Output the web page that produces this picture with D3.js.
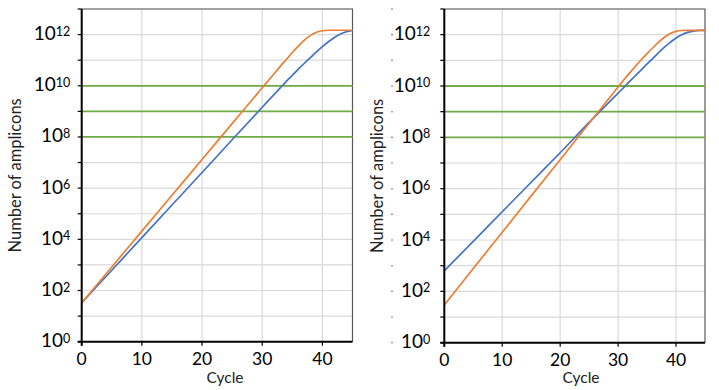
<!DOCTYPE html>
<html><head><meta charset="utf-8">
<script src="https://cdn.jsdelivr.net/npm/d3@7"></script>
<style>body{margin:0;background:#fff}svg{display:block}</style>
</head><body>
<svg id="c" width="719" height="390"></svg>
<script>
// ---- data ----
const xTicks = [0, 10, 20, 30, 40];
const yTickExps = [0, 2, 4, 6, 8, 10, 12];
const thresholds = [1e8, 1e9, 1e10];

const leftOrangeCycles = [0, 5, 10, 15, 20, 25, 30, 31, 32, 33, 34, 35, 36, 37, 38, 39, 40, 41, 45];
const leftOrangeValues = [3.3e1, 8.3e2, 2.09e4, 5.25e5, 1.32e7, 3.31e8, 8.32e9, 1.58e10, 3.02e10, 5.75e10, 1.07e11, 2.0e11, 3.55e11, 6.03e11, 9.12e11, 1.23e12, 1.41e12, 1.48e12, 1.48e12];
const leftBlueCycles = [0, 5, 10, 15, 20, 25, 30, 33, 34, 35, 36, 37, 38, 39, 40, 41, 42, 43, 44, 45];
const leftBlueValues = [3.3e1, 6.2e2, 1.17e4, 2.19e5, 4.07e6, 7.76e7, 1.45e9, 8.32e9, 1.48e10, 2.57e10, 4.47e10, 7.59e10, 1.26e11, 2.09e11, 3.39e11, 5.25e11, 7.76e11, 1.05e12, 1.29e12, 1.45e12];

const rightOrangeCycles = [0, 5, 10, 15, 20, 25, 30, 31, 32, 33, 34, 35, 36, 37, 38, 39, 40, 41, 42, 45];
const rightOrangeValues = [2.95e1, 7.76e2, 2.0e4, 5.25e5, 1.35e7, 3.55e8, 9.12e9, 1.74e10, 3.24e10, 5.89e10, 1.05e11, 1.82e11, 3.09e11, 5.13e11, 7.94e11, 1.12e12, 1.35e12, 1.45e12, 1.48e12, 1.48e12];
const rightBlueCycles = [0, 5, 10, 15, 20, 25, 30, 31, 32, 33, 34, 35, 36, 37, 38, 39, 40, 41, 42, 43, 44, 45];
const rightBlueValues = [6.31e2, 8.91e3, 1.26e5, 1.78e6, 2.51e7, 3.8e8, 5.25e9, 8.91e9, 1.51e10, 2.57e10, 4.27e10, 7.24e10, 1.2e11, 2.0e11, 3.24e11, 5.01e11, 7.41e11, 1.0e12, 1.23e12, 1.38e12, 1.48e12, 1.48e12];

const yTitle = "Number of amplicons";
const xTitle = "Cycle";

// ---- drawing ----
const svg = d3.select("#c");
const FONT = "Lato, 'Open Sans', sans-serif";
const C_ORANGE = "#ED7D31", C_BLUE = "#4472C4", C_GREEN = "#70AD47";

function zip(xs, ys){ return xs.map((x,i)=>({x, y: ys[i]})); }

function panel(o){
  const g = svg.append("g");
  const x = d3.scaleLinear().domain([0,45]).range([o.x0, o.x1]);
  const y = d3.scaleLog().domain([1, 1e13]).range([o.y0, o.y1]);
  const decades = d3.range(0, 14).map(e => Math.pow(10, e));

  // grid
  g.selectAll(".hg").data(decades.slice(1)).join("line")
    .attr("x1", o.x0).attr("x2", o.x1)
    .attr("y1", d=>y(d)).attr("y2", d=>y(d))
    .attr("stroke", "#d9d9d9").attr("stroke-width", 1.2);
  g.selectAll(".vg").data(xTicks.slice(1)).join("line")
    .attr("x1", d=>x(d)).attr("x2", d=>x(d))
    .attr("y1", o.y0).attr("y2", o.y1)
    .attr("stroke", "#d9d9d9").attr("stroke-width", 1.2);
  // top & right border
  g.append("path")
    .attr("d", `M${o.x0},${o.y1}H${o.x1}V${o.y0}`)
    .attr("fill","none").attr("stroke","#595959").attr("stroke-width",1.2);

  // thresholds
  g.selectAll(".th").data(thresholds).join("line")
    .attr("x1", o.x0).attr("x2", o.x1)
    .attr("y1", d=>y(d)).attr("y2", d=>y(d))
    .attr("stroke", C_GREEN).attr("stroke-width", 1.8);

  // curves
  const line = d3.line().x(d=>x(d.x)).y(d=>y(d.y)).curve(d3.curveMonotoneX);
  g.append("path").datum(zip(o.blueX, o.blueY)).attr("d", line)
    .attr("fill","none").attr("stroke", C_BLUE).attr("stroke-width", 1.7);
  g.append("path").datum(zip(o.orangeX, o.orangeY)).attr("d", line)
    .attr("fill","none").attr("stroke", C_ORANGE).attr("stroke-width", 1.7);

  // axes
  g.append("line").attr("x1", o.x0).attr("x2", o.x0).attr("y1", o.y0+4).attr("y2", o.y1)
    .attr("stroke","#000").attr("stroke-width",2);
  g.append("line").attr("x1", o.x0-4).attr("x2", o.x1).attr("y1", o.y0).attr("y2", o.y0)
    .attr("stroke","#000").attr("stroke-width",2);
  g.selectAll(".yt").data(decades).join("line")
    .attr("x1", o.x0-4).attr("x2", o.x0).attr("y1", d=>y(d)).attr("y2", d=>y(d))
    .attr("stroke","#000").attr("stroke-width",1.2);
  g.selectAll(".xt").data(xTicks).join("line")
    .attr("x1", d=>x(d)).attr("x2", d=>x(d)).attr("y1", o.y0).attr("y2", o.y0+4)
    .attr("stroke","#000").attr("stroke-width",1.2);

  // y tick labels
  const yl = g.selectAll(".yl").data(yTickExps).join("text")
    .attr("x", o.x0 - o.labelGap).attr("y", d=>y(Math.pow(10,d)) + 5.5)
    .attr("text-anchor","end").attr("font-family", FONT).attr("font-size", 19).attr("fill","#000");
  yl.append("tspan").text("10");
  yl.append("tspan").attr("font-size", 12.5).attr("dy", -4.5).text(d=>String(d));

  // x tick labels
  g.selectAll(".xl").data(xTicks).join("text")
    .attr("x", d=>x(d)).attr("y", o.y0 + 23)
    .attr("text-anchor","middle").attr("font-family", FONT).attr("font-size", 17.5).attr("fill","#000")
    .text(d=>d);

  // titles
  g.append("text").attr("x", o.xTitleX).attr("y", 383)
    .attr("text-anchor","middle").attr("font-family", FONT).attr("font-size", 15.5).attr("fill","#222")
    .text(xTitle);
  g.append("text").attr("transform", `translate(${o.yTitleX},${(o.y0+o.y1)/2}) rotate(-90)`)
    .attr("text-anchor","middle").attr("dy","0.35em").attr("font-family", FONT).attr("font-size", 16.5).attr("fill","#222")
    .text(yTitle);

  if (o.dots) {
    g.selectAll(".dot").data(decades).join("circle")
      .attr("cx", o.dots).attr("cy", d=>y(d))
      .attr("r", 0.8).attr("fill", "#666");
  }
}

panel({x0:81.7, x1:352.5, y0:341.7, y1:9, labelGap:11.5, xTitleX:225, yTitleX:15,
  orangeX:leftOrangeCycles, orangeY:leftOrangeValues, blueX:leftBlueCycles, blueY:leftBlueValues});
panel({x0:444.3, x1:705, y0:342.7, y1:9, labelGap:14, xTitleX:581, yTitleX:377, dots:392,
  orangeX:rightOrangeCycles, orangeY:rightOrangeValues, blueX:rightBlueCycles, blueY:rightBlueValues});
</script>
</body></html>
